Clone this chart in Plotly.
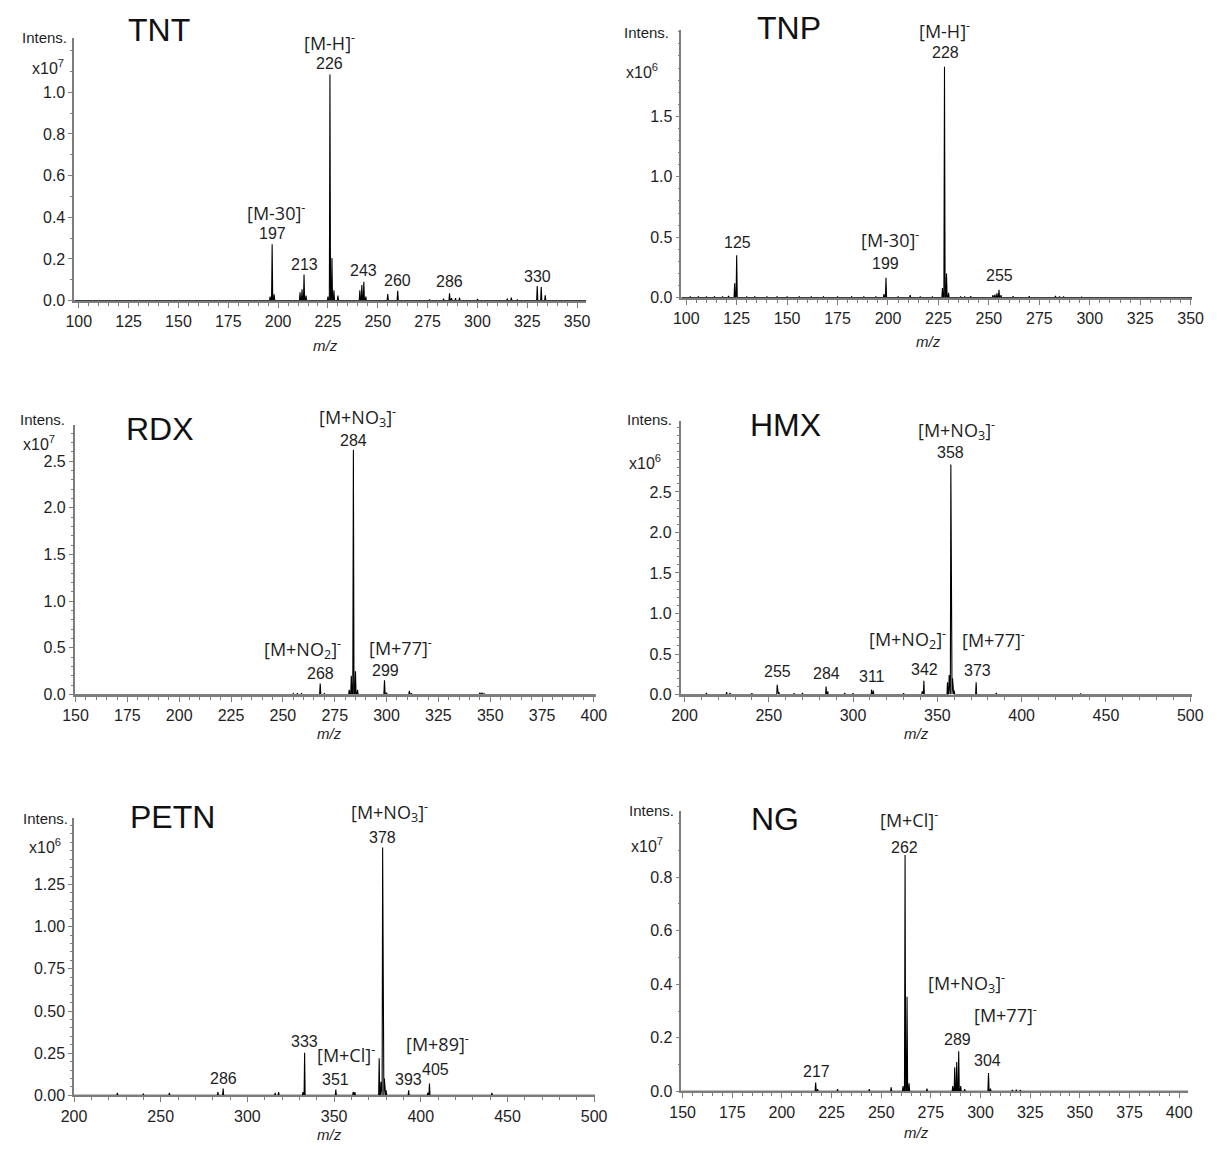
import plotly.graph_objects as go

W, H = 1217, 1149

# ---------------- data (intensities in units of the panel's multiplier) ----------------
TNT_MZ = [105, 108, 111, 121, 124, 146, 149, 196, 197, 198, 211, 212, 213, 214, 225, 226, 227, 228, 230,
          241, 242, 243, 244, 255, 260, 276, 283, 286, 287, 289, 291, 300, 315, 317, 320, 330, 332, 334]
TNT_INT = [0.003, 0.003, 0.003, 0.003, 0.003, 0.003, 0.003, 0.02, 0.27, 0.03, 0.04, 0.055, 0.125, 0.024, 0.02,
           1.085, 0.205, 0.05, 0.024, 0.05, 0.075, 0.09, 0.02, 0.032, 0.047, 0.006, 0.01, 0.035, 0.012, 0.012,
           0.015, 0.008, 0.01, 0.014, 0.005, 0.07, 0.065, 0.025]

TNP_MZ = [102, 106, 110, 114, 118, 121, 124, 125, 130, 134, 140, 145, 150, 156, 162, 168, 175, 182, 188, 194,
          198, 199, 205, 211, 216, 222, 227, 228, 229, 230, 236, 238, 241, 252, 253, 254, 255, 256, 262, 270,
          283, 285, 287, 296]
TNP_INT = [0.01, 0.008, 0.01, 0.008, 0.01, 0.015, 0.12, 0.35, 0.01, 0.008, 0.01, 0.008, 0.01, 0.008, 0.01,
           0.008, 0.01, 0.008, 0.01, 0.01, 0.03, 0.165, 0.008, 0.02, 0.01, 0.01, 0.08, 1.91, 0.2, 0.04, 0.01,
           0.01, 0.012, 0.02, 0.025, 0.035, 0.065, 0.02, 0.012, 0.012, 0.015, 0.01, 0.01, 0.005]

RDX_MZ = [255, 257, 259, 268, 270, 282, 283, 284, 285, 286, 299, 300, 311, 312, 345, 346, 347]
RDX_INT = [0.01, 0.015, 0.01, 0.117, 0.01, 0.05, 0.2, 2.62, 0.25, 0.05, 0.152, 0.02, 0.04, 0.015, 0.02,
           0.02, 0.01]

HMX_MZ = [213, 225, 227, 240, 255, 256, 265, 270, 284, 285, 295, 300, 311, 312, 330, 341, 342, 356, 357,
          358, 359, 360, 373, 385, 435]
HMX_INT = [0.02, 0.03, 0.02, 0.015, 0.12, 0.03, 0.015, 0.02, 0.1, 0.04, 0.02, 0.015, 0.06, 0.05, 0.015,
           0.04, 0.17, 0.15, 0.24, 2.84, 0.2, 0.05, 0.15, 0.02, 0.01]

PETN_MZ = [225, 240, 255, 283, 286, 316, 318, 332, 333, 351, 361, 362, 376, 377, 378, 379, 380, 393, 404,
           405, 441]
PETN_INT = [0.015, 0.01, 0.015, 0.02, 0.04, 0.015, 0.02, 0.02, 0.252, 0.035, 0.02, 0.02, 0.22, 0.08, 1.47,
            0.1, 0.03, 0.03, 0.015, 0.07, 0.015]

NG_MZ = [217, 218, 228, 244, 255, 261, 262, 263, 264, 273, 286, 287, 288, 289, 290, 292, 304, 305, 316,
         318, 320]
NG_INT = [0.033, 0.008, 0.008, 0.008, 0.015, 0.02, 0.882, 0.353, 0.03, 0.01, 0.02, 0.09, 0.11, 0.15, 0.02,
          0.008, 0.069, 0.01, 0.005, 0.006, 0.005]

# labelled peaks (m/z) and ion labels
TNT_LABEL_MZ = [197, 213, 226, 243, 260, 286, 330]
TNT_ION_TEXT = ["[M-30]<sup>-</sup>", "[M-H]<sup>-</sup>"]
TNT_ION_MZ = [197, 226]

TNP_LABEL_MZ = [125, 199, 228, 255]
TNP_ION_TEXT = ["[M-30]<sup>-</sup>", "[M-H]<sup>-</sup>"]
TNP_ION_MZ = [199, 228]

RDX_LABEL_MZ = [268, 284, 299]
RDX_ION_TEXT = ["[M+NO<sub>2</sub>]<sup>-</sup>", "[M+NO<sub>3</sub>]<sup>-</sup>", "[M+77]<sup>-</sup>"]
RDX_ION_MZ = [268, 284, 299]

HMX_LABEL_MZ = [255, 284, 311, 342, 358, 373]
HMX_ION_TEXT = ["[M+NO<sub>2</sub>]<sup>-</sup>", "[M+NO<sub>3</sub>]<sup>-</sup>", "[M+77]<sup>-</sup>"]
HMX_ION_MZ = [342, 358, 373]

PETN_LABEL_MZ = [286, 333, 351, 378, 393, 405]
PETN_ION_TEXT = ["[M+Cl]<sup>-</sup>", "[M+NO<sub>3</sub>]<sup>-</sup>", "[M+89]<sup>-</sup>"]
PETN_ION_MZ = [351, 378, 405]

NG_LABEL_MZ = [217, 262, 289, 304]
NG_ION_TEXT = ["[M+Cl]<sup>-</sup>", "[M+NO<sub>3</sub>]<sup>-</sup>", "[M+77]<sup>-</sup>"]
NG_ION_MZ = [262, 289, 304]

# axis tick labels
TNT_XTICKS = [100, 125, 150, 175, 200, 225, 250, 275, 300, 325, 350]
TNT_YTICKS = [0.0, 0.2, 0.4, 0.6, 0.8, 1.0]
TNP_XTICKS = [100, 125, 150, 175, 200, 225, 250, 275, 300, 325, 350]
TNP_YTICKS = [0.0, 0.5, 1.0, 1.5]
RDX_XTICKS = [150, 175, 200, 225, 250, 275, 300, 325, 350, 375, 400]
RDX_YTICKS = [0.0, 0.5, 1.0, 1.5, 2.0, 2.5]
HMX_XTICKS = [200, 250, 300, 350, 400, 450, 500]
HMX_YTICKS = [0.0, 0.5, 1.0, 1.5, 2.0, 2.5]
PETN_XTICKS = [200, 250, 300, 350, 400, 450, 500]
PETN_YTICKS = [0.0, 0.25, 0.5, 0.75, 1.0, 1.25]
NG_XTICKS = [150, 175, 200, 225, 250, 275, 300, 325, 350, 375, 400]
NG_YTICKS = [0.0, 0.2, 0.4, 0.6, 0.8]

NAMES = ["TNT", "TNP", "RDX", "HMX", "PETN", "NG"]
EXPONENTS = [7, 6, 7, 6, 6, 7]

# ---------------- layout / style (pixel geometry) ----------------
panels = [
    dict(mz=TNT_MZ, inten=TNT_INT, lab=TNT_LABEL_MZ, ion=TNT_ION_TEXT, ionmz=TNT_ION_MZ,
         xt=TNT_XTICKS, yt=TNT_YTICKS, xminor=5, yminor=0.1, yfmt=".1f",
         box=(62.5, 585.5, 303, 38), xr=(97.7, 354.7), ytop=1.262,
         labsh=[(0, 11), (0, 10), (0, 11), (0, 11), (0, 10), (0, 12), (0, 10)],
         ionsh=[(4, 32), (0, 33)],
         title=(149, 30), intens=(57, 38), xten=(54, 68), mzlab=(-5, 45)),
    dict(mz=TNP_MZ, inten=TNP_INT, lab=TNP_LABEL_MZ, ion=TNP_ION_TEXT, ionmz=TNP_ION_MZ,
         xt=TNP_XTICKS, yt=TNP_YTICKS, xminor=5, yminor=0.1, yfmt=".1f",
         box=(682.4, 1204, 300, 30), xr=(97.6, 350.8), ytop=2.217,
         labsh=[(1, 13), (0, 14), (1, 14), (1, 14)],
         ionsh=[(4, 39), (0, 37)],
         title=(792, 28), intens=(672, 33), xten=(661, 72), mzlab=(-8, 44)),
    dict(mz=RDX_MZ, inten=RDX_INT, lab=RDX_LABEL_MZ, ion=RDX_ION_TEXT, ionmz=RDX_ION_MZ,
         xt=RDX_XTICKS, yt=RDX_YTICKS, xminor=5, yminor=0.1, yfmt=".1f",
         box=(63, 595, 700, 428), xr=(149.6, 400.9), ytop=2.89,
         labsh=[(0, 10), (0, 9), (1, 10)],
         ionsh=[(-18, 35), (4, 33), (16, 33)],
         title=(150, 432), intens=(55, 423), xten=(45, 446), mzlab=(-6, 39)),
    dict(mz=HMX_MZ, inten=HMX_INT, lab=HMX_LABEL_MZ, ion=HMX_ION_TEXT, ionmz=HMX_ION_MZ,
         xt=HMX_XTICKS, yt=HMX_YTICKS, xminor=10, yminor=0.1, yfmt=".1f",
         box=(681.6, 1204, 700, 424), xr=(197.7, 501.2), ytop=3.38,
         labsh=[(0, 13), (0, 13), (0, 13), (1, 11), (0, 12), (1, 12)],
         ionsh=[(-16, 42), (6, 34), (17, 43)],
         title=(789, 428), intens=(675, 423), xten=(664, 466), mzlab=(-20, 39)),
    dict(mz=PETN_MZ, inten=PETN_INT, lab=PETN_LABEL_MZ, ion=PETN_ION_TEXT, ionmz=PETN_ION_MZ,
         xt=PETN_XTICKS, yt=PETN_YTICKS, xminor=10, yminor=0.05, yfmt=".2f",
         box=(62.3, 594.6, 1104, 824), xr=(200.0, 500.7), ytop=1.647,
         labsh=[(0, 10), (0, 11), (0, 10), (0, 10), (0, 11), (6, 14)],
         ionsh=[(10, 35), (7, 35), (8, 41)],
         title=(163, 823), intens=(58, 825), xten=(51, 853), mzlab=(-5, 39)),
    dict(mz=NG_MZ, inten=NG_INT, lab=NG_LABEL_MZ, ion=NG_ION_TEXT, ionmz=NG_ION_MZ,
         xt=NG_XTICKS, yt=NG_YTICKS, xminor=5, yminor=0.1, yfmt=".1f",
         box=(682.4, 1200, 1100, 817), xr=(149.4, 404.6), ytop=1.048,
         labsh=[(1, 11), (-1, 8), (-1, 12), (-1, 12)],
         ionsh=[(4, 36), (8, 68), (17, 59)],
         title=(778, 825), intens=(677, 817), xten=(666, 852), mzlab=(-18, 41)),
]

AXIS_GREY = "#7d7d7d"
TXT = "#1e1e1e"
ARIAL = "Liberation Sans, Arial, sans-serif"
ION_FONT = "Open Sans, sans-serif"


def profile(mz, inten, x0, x1, hw=0.3):
    xs, ys = [x0], [0.0]
    for m, h in sorted(zip(mz, inten)):
        xs += [m - hw, m, m + hw]
        ys += [0.0, h, 0.0]
    xs.append(x1)
    ys.append(0.0)
    return xs, ys


fig = go.Figure()
layout = dict(width=W, height=H, margin=dict(l=0, r=0, t=0, b=0),
              paper_bgcolor="white", plot_bgcolor="white", showlegend=False)
annotations = []

for i, p in enumerate(panels):
    n = i + 1
    sfx = "" if n == 1 else str(n)
    xl, xr_px, yb, yt_px = p["box"]
    xs, ys = profile(p["mz"], p["inten"], p["xr"][0], p["xr"][1])
    fig.add_trace(go.Scatter(x=xs, y=ys, mode="lines", xaxis="x" + sfx, yaxis="y" + sfx,
                             line=dict(color="black", width=1.1), hoverinfo="skip"))

    layout["xaxis" + sfx] = dict(
        domain=[xl / W, xr_px / W], anchor="y" + sfx, range=list(p["xr"]),
        showline=True, linecolor=AXIS_GREY, linewidth=2, showgrid=False, zeroline=False,
        ticks="outside", ticklen=5, tickwidth=1, tickcolor=AXIS_GREY,
        tickmode="array", tickvals=p["xt"], ticktext=[str(v) for v in p["xt"]],
        tickfont=dict(family=ARIAL, size=16, color=TXT),
        minor=dict(ticks="outside", ticklen=3, tickcolor=AXIS_GREY, tickwidth=1,
                   tickmode="linear", tick0=p["xt"][0], dtick=p["xminor"]),
    )
    layout["yaxis" + sfx] = dict(
        domain=[1 - yb / H, 1 - yt_px / H], anchor="x" + sfx, range=[0, p["ytop"]],
        showline=True, linecolor=AXIS_GREY, linewidth=1.5, showgrid=False, zeroline=False,
        ticks="outside", ticklen=4, tickwidth=1, tickcolor=AXIS_GREY,
        tickmode="array", tickvals=p["yt"], ticktext=[format(v, p["yfmt"]) for v in p["yt"]],
        tickfont=dict(family=ARIAL, size=16, color=TXT),
        minor=dict(ticks="outside", ticklen=2, tickcolor=AXIS_GREY, tickwidth=1,
                   tickmode="linear", tick0=0, dtick=p["yminor"]),
    )

    height_of = dict(zip(p["mz"], p["inten"]))
    # m/z number labels
    for m, (dx, dy) in zip(p["lab"], p["labsh"]):
        annotations.append(dict(x=m, y=height_of[m], xref="x" + sfx, yref="y" + sfx, text=str(m),
                                showarrow=False, xanchor="center", yanchor="middle",
                                xshift=dx, yshift=dy, font=dict(family=ARIAL, size=16, color=TXT)))
    # ion labels
    for t, m, (dx, dy) in zip(p["ion"], p["ionmz"], p["ionsh"]):
        annotations.append(dict(x=m, y=height_of[m], xref="x" + sfx, yref="y" + sfx, text=t,
                                showarrow=False, xanchor="center", yanchor="middle",
                                xshift=dx, yshift=dy, font=dict(family=ION_FONT, size=18, color=TXT)))
    # compound name
    tx, ty = p["title"]
    annotations.append(dict(x=tx / W, y=1 - ty / H, xref="paper", yref="paper", text=NAMES[i],
                            showarrow=False, xanchor="center", yanchor="middle",
                            font=dict(family=ARIAL, size=32, color="#111111")))
    ix, iy = p["intens"]
    annotations.append(dict(x=ix / W, y=1 - iy / H, xref="paper", yref="paper", text="Intens.",
                            showarrow=False, xanchor="right", yanchor="middle",
                            font=dict(family=ARIAL, size=15, color=TXT)))
    ex, ey = p["xten"]
    annotations.append(dict(x=ex / W, y=1 - ey / H, xref="paper", yref="paper",
                            text="x10<sup>%d</sup>" % EXPONENTS[i],
                            showarrow=False, xanchor="right", yanchor="middle",
                            font=dict(family=ARIAL, size=16, color=TXT)))
    # m/z axis title
    mdx, mdy = p["mzlab"]
    annotations.append(dict(x=0.5, y=0, xref="x%s domain" % sfx, yref="y%s domain" % sfx,
                            text="<i>m/z</i>", showarrow=False, xanchor="center", yanchor="middle",
                            xshift=mdx, yshift=-mdy, font=dict(family=ARIAL, size=15, color=TXT)))

layout["annotations"] = annotations
fig.update_layout(**layout)
fig.write_html("out.html", config={"displayModeBar": False},
               post_script="document.body.style.margin='0';document.body.style.overflow='hidden';")
